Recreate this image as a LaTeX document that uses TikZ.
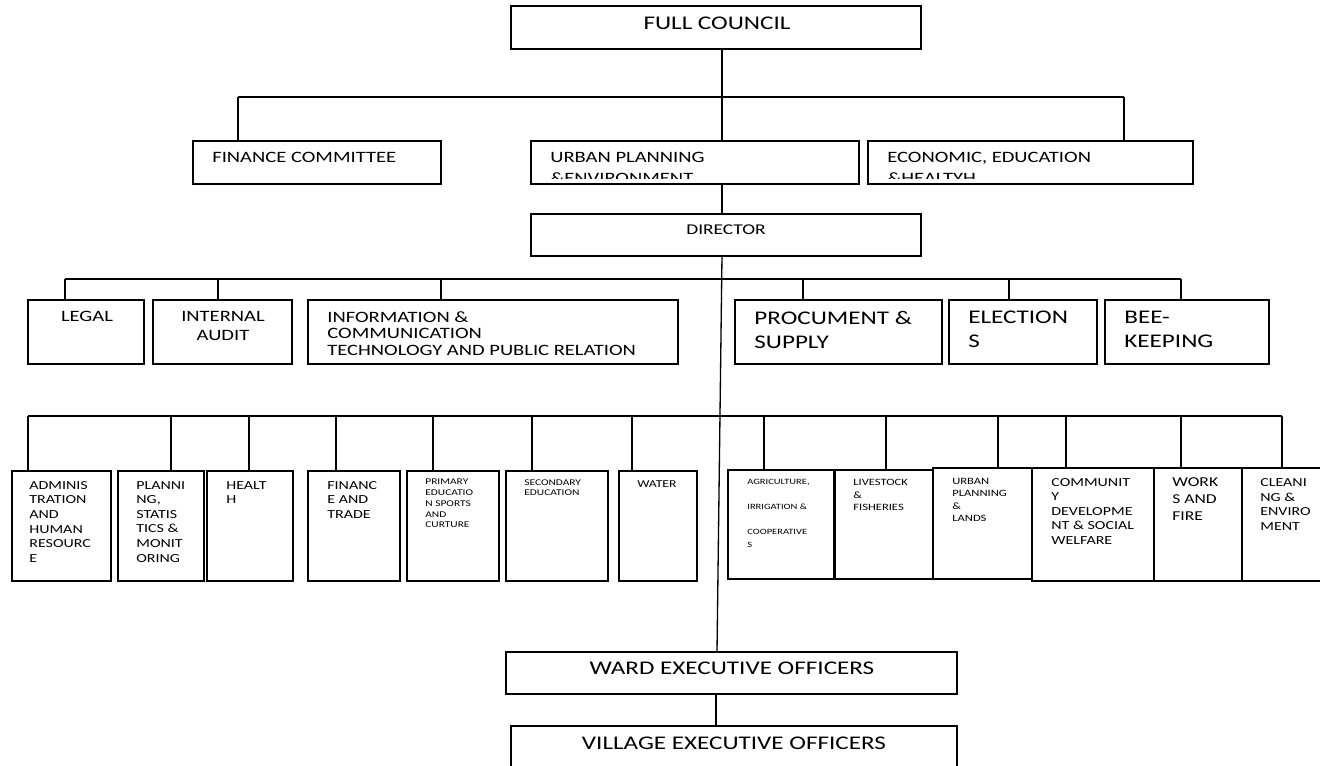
\documentclass[tikz,border=0pt]{standalone}
\usepackage{fontspec}
\setmainfont{Carlito}[FakeStretch=1.3]
\usetikzlibrary{calc}
\newcommand\fs[2]{\fontsize{#1}{#2}\selectfont}
\def\orgbox(#1)(#2,#3)(#4,#5){\node[box, minimum width={(#4-#2)*0.02cm}, minimum height={(#5-#3)*0.02cm}] (#1) at ({(#2+#4)/2},{(#3+#5)/2}) {};}
\tikzset{
  box/.style={draw, line width=0.75pt, inner sep=0pt, outer sep=0pt},
  txt/.style={inner sep=0pt, align=left, anchor=north west},
  link/.style={line width=0.75pt}
}

\begin{document}
\begin{tikzpicture}[x=0.02cm, y=-0.02cm]
	\useasboundingbox (0,0) rectangle (1320,766);
	%%%%% COUNCIL %%%%%
	\orgbox(fc)(511,6)(921,49)
	\node[txt, anchor=north, font=\fs{11}{13}] (fc-t) at (717,17) {FULL COUNCIL};
	
	\orgbox(fin)(193,141)(441,184)
	\orgbox(upe)(531,141)(859,184)
	\orgbox(eeh)(868,141)(1193,184)
	\node[txt, font=\fs{9}{11.7}] (fin-t) at (212,152) {FINANCE COMMITTEE};
	\begin{scope}
		\clip (531,141) rectangle (859,178.5);
		\node[txt, font=\fs{9}{11.7}] (upe-t) at (550,152) {URBAN PLANNING\\\&ENVIRONMENT};
	\end{scope}
	\begin{scope}
		\clip (868,141) rectangle (1193,178.5);
		\node[txt, font=\fs{9}{11.7}] (eeh-t) at (887,152) {ECONOMIC, EDUCATION\\\&HEALTYH};
	\end{scope}
	
	\coordinate (j1) at (238,97);
	\coordinate (j2) at (722,97);
	\coordinate (j3) at (1124,97);
	\draw[link] (j1) -- (j3);
	\draw[link] (j1) -- (j1 |- fin.north);
	\draw[link] (j2 |- fc.south) -- (j2 |- upe.north);
	\draw[link] (j3) -- (j3 |- eeh.north);
	
	%%%%% DIRECTOR %%%%%
	\orgbox(dir)(531,214)(921,256)
	\node[txt, anchor=north, font=\fs{8.5}{10}] (dir-t) at (726,224) {DIRECTOR};
	\draw[link] (j2 |- upe.south) -- (j2 |- dir.north);
	
	\orgbox(legal)(28,300)(144,364)
	\orgbox(audit)(153,300)(292,364)
	\orgbox(ict)(308,300)(678,364)
	\orgbox(proc)(735,300)(942,364)
	\orgbox(elec)(949,300)(1097,364)
	\orgbox(bee)(1105,300)(1269,364)
	\node[txt, anchor=north, align=center, font=\fs{9}{10.8}] (legal-t) at (87,311) {LEGAL};
	\node[txt, anchor=north, align=center, font=\fs{9}{10.8}] (audit-t) at (223,311) {INTERNAL\\AUDIT};
	\node[txt, font=\fs{9}{9.4}] (ict-t) at (327,311) {INFORMATION \&\\COMMUNICATION\\TECHNOLOGY AND PUBLIC RELATION};
	\node[txt, font=\fs{11}{13.7}] (proc-t) at (754,311) {PROCUMENT \&\\SUPPLY};
	\node[txt, font=\fs{11}{13.7}] (elec-t) at (968,311) {ELECTION\\S};
	\node[txt, font=\fs{11}{13.7}] (bee-t) at (1124,311) {BEE-\\KEEPING};
	
	\coordinate (d1) at (65,279);
	\coordinate (d2) at (218,279);
	\coordinate (d3) at (441,279);
	\coordinate (d4) at (803,279);
	\coordinate (d5) at (1009,279);
	\coordinate (d6) at (1181,279);
	\draw[link] (d1) -- (d6);
	\draw[link] (d1) -- (d1 |- legal.north);
	\draw[link] (d2) -- (d2 |- audit.north);
	\draw[link] (d3) -- (d3 |- ict.north);
	\draw[link] (d4) -- (d4 |- proc.north);
	\draw[link] (d5) -- (d5 |- elec.north);
	\draw[link] (d6) -- (d6 |- bee.north);
	
	%%%%% DEPARTMENTS %%%%%
	\orgbox(admin)(12,471)(111,581)
	\orgbox(plan)(118,471)(204,581)
	\orgbox(health)(207,471)(293,581)
	\orgbox(fintr)(308,471)(400,581)
	\orgbox(prim)(407,471)(499,581)
	\orgbox(sec)(506,471)(608,581)
	\orgbox(water)(619,471)(697,581)
	\orgbox(agri)(728,470)(834,579)
	\orgbox(live)(835,470)(933,579)
	\orgbox(lands)(933,468)(1032,579)
	\orgbox(comm)(1032,468)(1154,581)
	\orgbox(works)(1154,468)(1242,581)
	\orgbox(clean)(1242,468)(1322,581)
	
	\node[txt, font=\fs{7}{8.3}] (admin-t) at (29,481) {ADMINIS\\TRATION\\AND\\HUMAN\\RESOURC\\E};
	\node[txt, font=\fs{7}{8.3}] (plan-t) at (136,481) {PLANNI\\NG,\\STATIS\\TICS \&\\MONIT\\ORING};
	\node[txt, font=\fs{7}{8.3}] (health-t) at (226,481) {HEALT\\H};
	\node[txt, font=\fs{7}{8.3}] (fintr-t) at (327,481) {FINANC\\E AND\\TRADE};
	\node[txt, font=\fs{5}{6.1}] (prim-t) at (425,479) {PRIMARY\\EDUCATIO\\N SPORTS\\AND\\CURTURE};
	\node[txt, font=\fs{5}{6.2}] (sec-t) at (524,479) {SECONDARY\\EDUCATION};
	\node[txt, font=\fs{6}{7}] (water-t) at (637,480.6) {WATER};
	\node[txt, font=\fs{4.6}{7.1}] (agri-t) at (747,479.4) {AGRICULTURE,\\~\\IRRIGATION \&\\~\\COOPERATIVE\\S};
	\node[txt, font=\fs{5.5}{7.1}] (live-t) at (853,479) {LIVESTOCK\\\&\\FISHERIES};
	\node[txt, font=\fs{5.5}{7}] (lands-t) at (952,478) {URBAN\\PLANNING\\\&\\LANDS};
	\node[txt, font=\fs{7}{8.25}] (comm-t) at (1051,478) {COMMUNIT\\Y\\DEVELOPME\\NT \& SOCIAL\\WELFARE};
	\node[txt, font=\fs{7.7}{9.7}] (works-t) at (1172,477.6) {WORK\\S AND\\FIRE};
	\node[txt, font=\fs{7}{8.4}] (clean-t) at (1260,478) {CLEANI\\NG \&\\ENVIRO\\MENT};
	
	\coordinate (b1) at (28,416);
	\coordinate (b2) at (171,416);
	\coordinate (b3) at (249,416);
	\coordinate (b4) at (336,416);
	\coordinate (b5) at (433,416);
	\coordinate (b6) at (532,416);
	\coordinate (b7) at (632,416);
	\coordinate (b8) at (764,416);
	\coordinate (b9) at (886,416);
	\coordinate (b10) at (998,416);
	\coordinate (b11) at (1066,416);
	\coordinate (b12) at (1181,416);
	\coordinate (b13) at (1282,416);
	\draw[link] (b1) -- (b13);
	\draw[link] (b1) -- (b1 |- admin.north);
	\draw[link] (b2) -- (b2 |- plan.north);
	\draw[link] (b3) -- (b3 |- health.north);
	\draw[link] (b4) -- (b4 |- fintr.north);
	\draw[link] (b5) -- (b5 |- prim.north);
	\draw[link] (b6) -- (b6 |- sec.north);
	\draw[link] (b7) -- (b7 |- water.north);
	\draw[link] (b8) -- (b8 |- agri.north);
	\draw[link] (b9) -- (b9 |- live.north);
	\draw[link] (b10) -- (b10 |- lands.north);
	\draw[link] (b11) -- (b11 |- comm.north);
	\draw[link] (b12) -- (b12 |- works.north);
	\draw[link] (b13) -- (b13 |- clean.north);
	
	%%%%% OFFICERS %%%%%
	\orgbox(ward)(506,652)(957,694)
	\orgbox(vil)(511,726)(957,790)
	\node[txt, anchor=north, font=\fs{11}{13}] (ward-t) at (732,662) {WARD EXECUTIVE OFFICERS};
	\node[txt, anchor=north, font=\fs{11}{13}] (vil-t) at (734,737) {VILLAGE EXECUTIVE OFFICERS};
	
	\coordinate (w1) at (717,652);
	\coordinate (w2) at (716,694);
	\draw[link] (j2 |- dir.south) -- (w1);
	\draw[link] (w2) -- (w2 |- vil.north);
\end{tikzpicture}
\end{document}
